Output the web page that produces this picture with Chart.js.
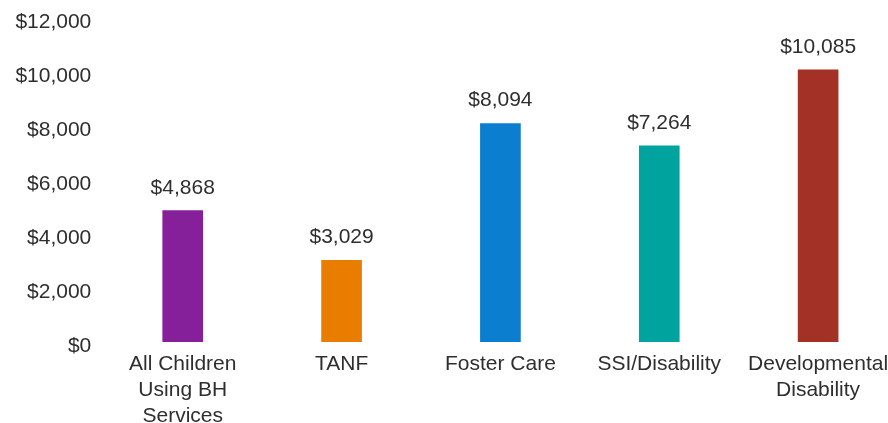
<!DOCTYPE html>
<html>
<head>
<meta charset="utf-8">
<script src="https://cdn.jsdelivr.net/npm/chart.js@4"></script>
<style>
  html, body { margin: 0; padding: 0; background: #ffffff; }
  #wrap { width: 888px; height: 423px; position: relative; }
</style>
</head>
<body>
<div id="wrap"><canvas id="c" width="888" height="423"></canvas></div>
<script>
const categories = [
  ['All Children', 'Using BH', 'Services'],
  'TANF',
  'Foster Care',
  'SSI/Disability',
  ['Developmental', 'Disability']
];
const costValues = [4868, 3029, 8094, 7264, 10085];
const barColors = ['#86209a', '#e97d00', '#0b7ecf', '#00a39d', '#a33125'];
const yTicks = [0, 2000, 4000, 6000, 8000, 10000, 12000];

const money = v => '$' + Number(v).toLocaleString('en-US');
const FONT = { family: "'Liberation Sans', Arial, sans-serif", size: 21 };
const TEXT = '#2e2e2e';

const valueLabels = {
  id: 'valueLabels',
  afterDatasetsDraw(chart) {
    const ctx = chart.ctx;
    const meta = chart.getDatasetMeta(0);
    ctx.save();
    ctx.font = FONT.size + 'px ' + FONT.family;
    ctx.fillStyle = TEXT;
    ctx.textAlign = 'center';
    ctx.textBaseline = 'alphabetic';
    meta.data.forEach((bar, i) => {
      ctx.fillText(money(costValues[i]), bar.x, bar.y - 17);
    });
    ctx.restore();
  }
};

new Chart(document.getElementById('c'), {
  type: 'bar',
  data: {
    datasets: [{
      data: costValues.map((v, i) => ({ x: i, y: v })),
      backgroundColor: barColors,
      borderWidth: 0,
      barThickness: 40
    }]
  },
  options: {
    responsive: false,
    animation: false,
    layout: { padding: { top: 18, left: 0, right: 0, bottom: 0 } },
    plugins: { legend: { display: false }, tooltip: { enabled: false } },
    scales: {
      x: {
        type: 'linear',
        offset: false,
        min: -0.5,
        max: 4.44,
        grid: { display: false, drawTicks: false, offset: false },
        border: { display: false },
        afterBuildTicks: s => { s.ticks = categories.map((c, i) => ({ value: i })); },
        afterFit: s => { s.paddingLeft = 0; s.paddingRight = 0; s.height = 81; },
        ticks: {
          padding: 9,
          color: TEXT,
          font: { ...FONT, lineHeight: 1.24 },
          maxRotation: 0,
          autoSkip: false,
          callback: v => categories[v]
        }
      },
      y: {
        min: 0,
        max: 12000,
        grid: { display: false, drawTicks: false },
        border: { display: false },
        afterBuildTicks: s => { s.ticks = yTicks.map(v => ({ value: v })); },
        afterFit: s => { s.width = 103.3; s.paddingTop = 0; s.paddingBottom = 0; },
        ticks: {
          padding: 12,
          color: TEXT,
          font: { ...FONT, lineHeight: '8px' },
          callback: v => ['', money(v)]
        }
      }
    }
  },
  plugins: [valueLabels]
});
</script>
</body>
</html>
